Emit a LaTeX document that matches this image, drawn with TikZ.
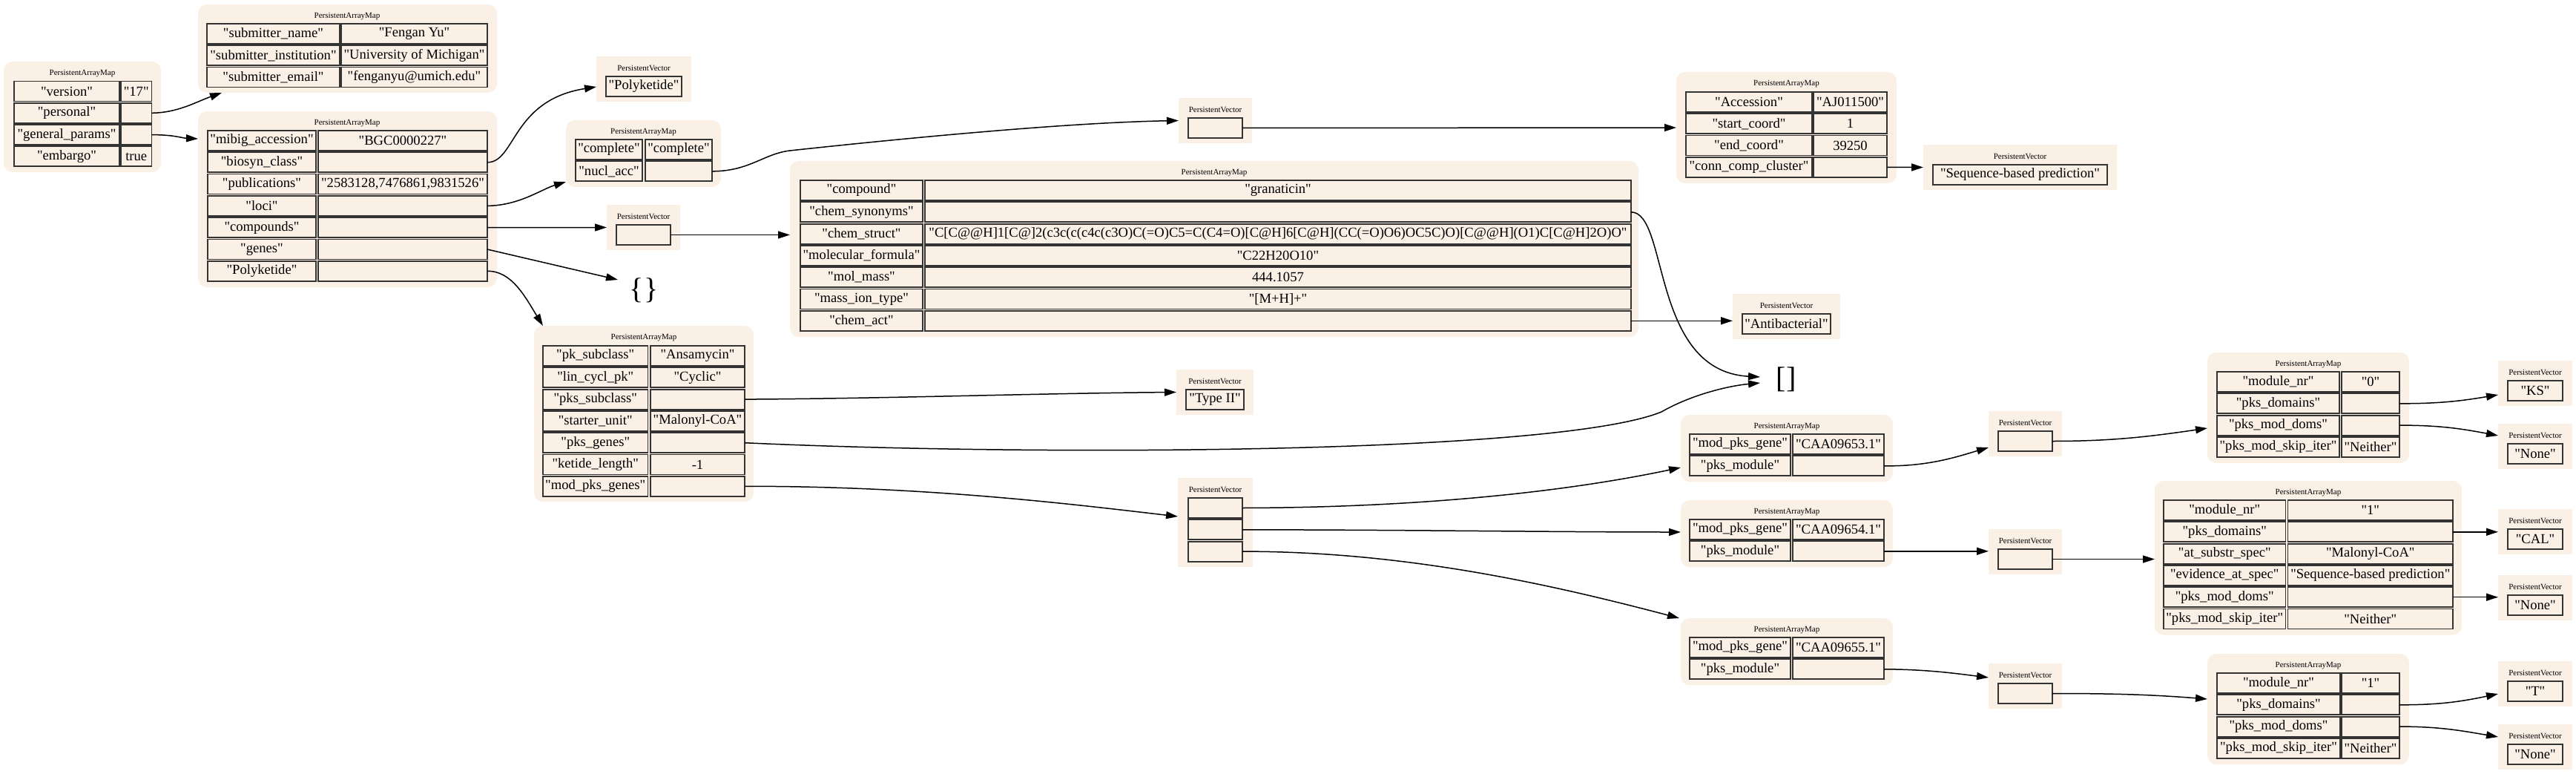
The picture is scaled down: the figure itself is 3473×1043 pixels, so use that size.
\documentclass[tikz,border=0pt]{standalone}
\usepackage{fontspec}
\setmainfont{Liberation Serif}[Ligatures=TeXOff]
\usetikzlibrary{arrows.meta,calc}
\definecolor{linen}{HTML}{FAF0E6}
\newcommand\cellfont{\fontsize{9.3pt}{11pt}\selectfont}
\newcommand\ttlfont{\fontsize{5.5pt}{6.5pt}\selectfont}
\newcommand\bigfont{\fontsize{20pt}{22pt}\selectfont}
\newcommand\mybox[6]{\node[#6, minimum width={((#4)-(#2))*0.5pt}, minimum height={((#5)-(#3))*0.5pt}] (#1) at ({((#2)+(#4))/2},{((#3)+(#5))/2}) {};}
\newcommand\mycell[6]{\node[cellsty, minimum width={((#4)-(#2))*0.5pt}, minimum height={((#5)-(#3))*0.5pt}] (#1) at ({((#2)+(#4))/2},{((#3)+(#5))/2}) {#6};}
\newcommand\mykv[8]{\mycell{#1k}{#3}{#2}{#4}{#2+27}{#7}\mycell{#1v}{#5}{#2}{#6}{#2+27}{#8}}
\newcommand\mytitle[4]{\node[ttl] (#1) at (#2,#3) {#4};}
\tikzset{
  cellsty/.style={draw=black!80, fill=linen, line width=0.9pt, inner sep=0pt, outer sep=0pt, font=\cellfont},
  mapbg/.style={fill=linen, rounded corners=6pt, inner sep=0pt, outer sep=0pt},
  vecbg/.style={fill=linen, inner sep=0pt, outer sep=0pt},
  ttl/.style={font=\ttlfont, inner sep=0pt},
  emptysty/.style={font=\bigfont, inner sep=0pt},
  edge/.style={line width=0.75pt, -{Triangle[length=8pt,width=5pt]}},
}
\begin{document}
\begin{tikzpicture}[x=0.5pt,y=-0.5pt]
\fill[white] (0,0) rectangle (3473,1043);
\useasboundingbox (0,0) rectangle (3473,1043);
% root
\mybox{R}{5}{83}{217}{232}{mapbg}
\mytitle{Rt}{111}{99}{PersistentArrayMap}
\mykv{r1}{109.5}{19}{161}{163}{204.5}{"version"}{"17"}
\mykv{r2}{138.8}{19}{161}{163}{204.5}{"personal"}{}
\mykv{r3}{168.1}{19}{161}{163}{204.5}{"general\_params"}{}
\mykv{r4}{197.4}{19}{161}{163}{204.5}{"embargo"}{true}
% personal
\mybox{P}{267}{6}{670}{125}{mapbg}
\mytitle{Pt}{468}{22}{PersistentArrayMap}
\mykv{p1}{32}{279}{458}{460}{657}{"submitter\_name"}{"Fengan Yu"}
\mykv{p2}{61.3}{279}{458}{460}{657}{"submitter\_institution"}{"University of Michigan"}
\mykv{p3}{90.6}{279}{458}{460}{657}{"submitter\_email"}{"fenganyu@umich.edu"}
% general
\mybox{G}{267}{150}{670}{387}{mapbg}
\mytitle{Gt}{468}{166}{PersistentArrayMap}
\mykv{g1}{176}{280}{426}{429}{657}{"mibig\_accession"}{"BGC0000227"}
\mykv{g2}{205.3}{280}{426}{429}{657}{"biosyn\_class"}{}
\mykv{g3}{234.6}{280}{426}{429}{657}{"publications"}{"2583128,7476861,9831526"}
\mykv{g4}{263.9}{280}{426}{429}{657}{"loci"}{}
\mykv{g5}{293.2}{280}{426}{429}{657}{"compounds"}{}
\mykv{g6}{322.5}{280}{426}{429}{657}{"genes"}{}
\mykv{g7}{351.8}{280}{426}{429}{657}{"Polyketide"}{}
% polyketide vector
\mybox{PV}{804}{76}{932}{137}{vecbg}
\mytitle{PVt}{868}{92}{PersistentVector}
\mycell{pvc}{817}{103}{919}{130}{"Polyketide"}
% loci
\mybox{L}{763}{162}{972}{252}{mapbg}
\mytitle{Lt}{867.5}{178}{PersistentArrayMap}
\mykv{l1}{188}{776}{866}{870}{960}{"complete"}{"complete"}
\mykv{l2}{217.3}{776}{866}{870}{960}{"nucl\_acc"}{}
% top vector
\mybox{TV}{1589}{132}{1688}{193}{vecbg}
\mytitle{TVt}{1638.5}{148}{PersistentVector}
\mycell{tvc}{1602}{159}{1675}{186}{}
% compounds vector
\mybox{CV}{818}{276}{917}{337}{vecbg}
\mytitle{CVt}{867.5}{292}{PersistentVector}
\mycell{cvc}{831}{303}{904}{330}{}
% compound map
\mybox{C}{1065}{217}{2209}{454}{mapbg}
\mytitle{Ct}{1637}{233}{PersistentArrayMap}
\mykv{c1}{243}{1079}{1244}{1247}{2199}{"compound"}{"granaticin"}
\mykv{c2}{272.3}{1079}{1244}{1247}{2199}{"chem\_synonyms"}{}
\mykv{c3}{301.6}{1079}{1244}{1247}{2199}{"chem\_struct"}{"C[C@@H]1[C@]2(c3c(c(c4c(c3O)C(=O)C5=C(C4=O)[C@H]6[C@H](CC(=O)O6)OC5C)O)[C@@H](O1)C[C@H]2O)O"}
\mykv{c4}{330.9}{1079}{1244}{1247}{2199}{"molecular\_formula"}{"C22H20O10"}
\mykv{c5}{360.2}{1079}{1244}{1247}{2199}{"mol\_mass"}{444.1057}
\mykv{c6}{389.5}{1079}{1244}{1247}{2199}{"mass\_ion\_type"}{"[M+H]+"}
\mykv{c7}{418.8}{1079}{1244}{1247}{2199}{"chem\_act"}{}
% accession map
\mybox{A}{2260}{97}{2557}{247}{mapbg}
\mytitle{At}{2408.5}{113}{PersistentArrayMap}
\mykv{a1}{124}{2273}{2443}{2445}{2544}{"Accession"}{"AJ011500"}
\mykv{a2}{153.3}{2273}{2443}{2445}{2544}{"start\_coord"}{1}
\mykv{a3}{182.6}{2273}{2443}{2445}{2544}{"end\_coord"}{39250}
\mykv{a4}{211.9}{2273}{2443}{2445}{2544}{"conn\_comp\_cluster"}{}
% seq vector
\mybox{S}{2593}{195}{2854}{256}{vecbg}
\mytitle{St}{2723.5}{211}{PersistentVector}
\mycell{sc}{2606}{222}{2841}{249}{"Sequence-based prediction"}
% antibacterial
\mybox{AB}{2336}{396}{2481}{457}{vecbg}
\mytitle{ABt}{2408.5}{412}{PersistentVector}
\mycell{abc}{2349}{423}{2468}{450}{"Antibacterial"}
% empties
\node[emptysty] (E1) at (868,391) {\{\}};
\node[emptysty] (E2) at (2408,511) {[]};
% pk map
\mybox{K}{720}{439}{1016}{676}{mapbg}
\mytitle{Kt}{868}{455}{PersistentArrayMap}
\mykv{k1}{466}{732}{873.5}{877}{1004}{"pk\_subclass"}{"Ansamycin"}
\mykv{k2}{495.3}{732}{873.5}{877}{1004}{"lin\_cycl\_pk"}{"Cyclic"}
\mykv{k3}{524.6}{732}{873.5}{877}{1004}{"pks\_subclass"}{}
\mykv{k4}{553.9}{732}{873.5}{877}{1004}{"starter\_unit"}{"Malonyl-CoA"}
\mykv{k5}{583.2}{732}{873.5}{877}{1004}{"pks\_genes"}{}
\mykv{k6}{612.5}{732}{873.5}{877}{1004}{"ketide\_length"}{-1}
\mykv{k7}{641.8}{732}{873.5}{877}{1004}{"mod\_pks\_genes"}{}
% type II
\mybox{T2}{1586}{498}{1690}{559}{vecbg}
\mytitle{T2t}{1638}{514}{PersistentVector}
\mycell{t2c}{1599}{525}{1677}{552}{"Type II"}
% genes vector
\mybox{GV}{1588}{644}{1689}{764}{vecbg}
\mytitle{GVt}{1638.5}{660}{PersistentVector}
\mycell{gc1}{1602}{671}{1675}{698}{}
\mycell{gc2}{1602}{700.3}{1675}{727.3}{}
\mycell{gc3}{1602}{729.6}{1675}{756.6}{}
% CAA maps
\mybox{M1}{2266}{559}{2552}{649.3}{mapbg}
\mytitle{M1t}{2409}{575}{PersistentArrayMap}
\mykv{ma}{585}{2278}{2414}{2417}{2540}{"mod\_pks\_gene"}{"CAA09653.1"}
\mykv{mb}{614.3}{2278}{2414}{2417}{2540}{"pks\_module"}{}
\mybox{M2}{2266}{674}{2552}{764.3}{mapbg}
\mytitle{M2t}{2409}{690}{PersistentArrayMap}
\mykv{mc}{700}{2278}{2414}{2417}{2540}{"mod\_pks\_gene"}{"CAA09654.1"}
\mykv{md}{729.3}{2278}{2414}{2417}{2540}{"pks\_module"}{}
\mybox{M3}{2266}{833}{2552}{923.3}{mapbg}
\mytitle{M3t}{2409}{849}{PersistentArrayMap}
\mykv{me}{859}{2278}{2414}{2417}{2540}{"mod\_pks\_gene"}{"CAA09655.1"}
\mykv{mf}{888.3}{2278}{2414}{2417}{2540}{"pks\_module"}{}
% module vectors
\mybox{V1}{2681}{554}{2780}{615}{vecbg}
\mytitle{V1t}{2730.5}{570}{PersistentVector}
\mycell{v1c}{2694}{581}{2767}{608}{}
\mybox{V2}{2681}{713}{2780}{774}{vecbg}
\mytitle{V2t}{2730.5}{729}{PersistentVector}
\mycell{v2c}{2694}{740}{2767}{767}{}
\mybox{V3}{2681}{894}{2780}{955}{vecbg}
\mytitle{V3t}{2730.5}{910}{PersistentVector}
\mycell{v3c}{2694}{921}{2767}{948}{}
% module map 0
\mybox{MM0}{2976}{475}{3248}{624}{mapbg}
\mytitle{MM0t}{3112}{491}{PersistentArrayMap}
\mykv{na}{501}{2989}{3154}{3157}{3235}{"module\_nr"}{"0"}
\mykv{nb}{530.3}{2989}{3154}{3157}{3235}{"pks\_domains"}{}
\mykv{nc}{559.6}{2989}{3154}{3157}{3235}{"pks\_mod\_doms"}{}
\mykv{nd}{588.9}{2989}{3154}{3157}{3235}{"pks\_mod\_skip\_iter"}{"Neither"}
% module map 1
\mybox{MM1}{2905}{648}{3319}{855.5}{mapbg}
\mytitle{MM1t}{3112}{664}{PersistentArrayMap}
\mykv{oa}{674}{2917}{3081.5}{3084.5}{3307}{"module\_nr"}{"1"}
\mykv{ob}{703.3}{2917}{3081.5}{3084.5}{3307}{"pks\_domains"}{}
\mykv{oc}{732.6}{2917}{3081.5}{3084.5}{3307}{"at\_substr\_spec"}{"Malonyl-CoA"}
\mykv{od}{761.9}{2917}{3081.5}{3084.5}{3307}{"evidence\_at\_spec"}{"Sequence-based prediction"}
\mykv{oe}{791.2}{2917}{3081.5}{3084.5}{3307}{"pks\_mod\_doms"}{}
\mykv{of}{820.5}{2917}{3081.5}{3084.5}{3307}{"pks\_mod\_skip\_iter"}{"Neither"}
% module map 2
\mybox{MM2}{2976}{881}{3248}{1030}{mapbg}
\mytitle{MM2t}{3112}{897}{PersistentArrayMap}
\mykv{qa}{907}{2989}{3155}{3157}{3235}{"module\_nr"}{"1"}
\mykv{qb}{936.3}{2989}{3155}{3157}{3235}{"pks\_domains"}{}
\mykv{qc}{965.6}{2989}{3155}{3157}{3235}{"pks\_mod\_doms"}{}
\mykv{qd}{994.9}{2989}{3155}{3157}{3235}{"pks\_mod\_skip\_iter"}{"Neither"}
% right vectors
\mybox{KS}{3368}{486}{3468}{547}{vecbg}
\mytitle{KSt}{3418}{502}{PersistentVector}
\mycell{ksc}{3381}{513}{3455}{540}{"KS"}
\mybox{N0}{3368}{571}{3468}{632}{vecbg}
\mytitle{N0t}{3418}{587}{PersistentVector}
\mycell{n0c}{3381}{598}{3455}{625}{"None"}
\mybox{CAL}{3368}{686}{3468}{747}{vecbg}
\mytitle{CALt}{3418}{702}{PersistentVector}
\mycell{calc}{3381}{713}{3455}{740}{"CAL"}
\mybox{N1}{3368}{775}{3468}{836}{vecbg}
\mytitle{N1t}{3418}{791}{PersistentVector}
\mycell{n1c}{3381}{802}{3455}{829}{"None"}
\mybox{TT}{3368}{891}{3468}{952}{vecbg}
\mytitle{TTt}{3418}{907}{PersistentVector}
\mycell{ttc}{3381}{918}{3455}{945}{"T"}
\mybox{N2}{3368}{976}{3468}{1037}{vecbg}
\mytitle{N2t}{3418}{992}{PersistentVector}
\mycell{n2c}{3381}{1003}{3455}{1030}{"None"}
% edges
\draw[edge] (r2v.east) .. controls (240,152) and (265,137) .. ($(P.south west)+(32,0)$);
\draw[edge] (r3v.east) .. controls (235,181.6) and (245,186) .. ($(G.north west)+(0,37)$);
\draw[edge] (g2v.east) .. controls (695,219) and (690,135) .. ($(PV.north west)+(0,41)$);
\draw[edge] (g4v.east) .. controls (700,277) and (730,255) .. ($(L.south west)+(0,-7)$);
\draw[edge] (g5v.east) -- (CV.west);
\draw[edge] (g6v.east) -- ($(E1.center)+(-35,-14)$);
\draw[edge] (g7v.east) .. controls (690,365) and (708,400) .. ($(K.north west)+(12,0)$);
\draw[edge] (l2v.east) .. controls (1010,231) and (1030,207) .. (1065,203) .. controls (1250,183) and (1450,165) .. (TV.west);
\draw[edge] (tvc.east) -- (A.west);
\draw[edge] (a4v.east) -- (S.west);
\draw[edge] (cvc.east) -- (cvc.east -| C.west);
\draw[edge] (c2v.east) .. controls (2250,286) and (2225,500) .. ($(E2.center)+(-35,-3)$);
\draw[edge] (c7v.east) -- (c7v.east -| AB.west);
\draw[edge] (k3v.east) .. controls (1200,537) and (1400,530) .. (T2.west);
\draw[edge] (k5v.east) .. controls (1400,615) and (2100,612) .. (2240,555) .. controls (2280,532) and (2330,520) .. ($(E2.center)+(-35,5)$);
\draw[edge] (k7v.east) .. controls (1250,655) and (1450,680) .. ($(GV.north west)+(0,52)$);
\draw[edge] (gc1.east) .. controls (1900,684) and (2100,665) .. ($(M1.north west)+(0,71)$);
\draw[edge] (gc2.east) .. controls (1900,714) and (2100,717) .. ($(M2.north west)+(0,43)$);
\draw[edge] (gc3.east) .. controls (1900,743) and (2100,790) .. ($(M3.north west)+(-2,0)$);
\draw[edge] (mbv.east) .. controls (2600,628.8) and (2640,615) .. ($(V1.north west)+(0,49)$);
\draw[edge] (mdv.east) -- (mdv.east -| V2.west);
\draw[edge] (mfv.east) .. controls (2600,902) and (2640,908) .. ($(V3.north west)+(0,19)$);
\draw[edge] (v1c.east) .. controls (2850,594.5) and (2900,588) .. ($(MM0.north west)+(0,102)$);
\draw[edge] (v2c.east) -- (v2c.east -| MM1.west);
\draw[edge] (v3c.east) .. controls (2850,934.5) and (2900,936) .. ($(MM2.north west)+(0,61)$);
\draw[edge] (nbv.east) .. controls (3290,544) and (3320,540) .. ($(KS.north west)+(0,46)$);
\draw[edge] (ncv.east) .. controls (3290,573) and (3320,578) .. ($(N0.north west)+(0,16)$);
\draw[edge] (obv.east) -- (obv.east -| CAL.west);
\draw[edge] (oev.east) -- (oev.east -| N1.west);
\draw[edge] (qbv.east) .. controls (3290,950) and (3320,945) .. ($(TT.north west)+(0,44)$);
\draw[edge] (qcv.east) .. controls (3290,979) and (3320,985) .. ($(N2.north west)+(0,17)$);
\end{tikzpicture}
\end{document}
